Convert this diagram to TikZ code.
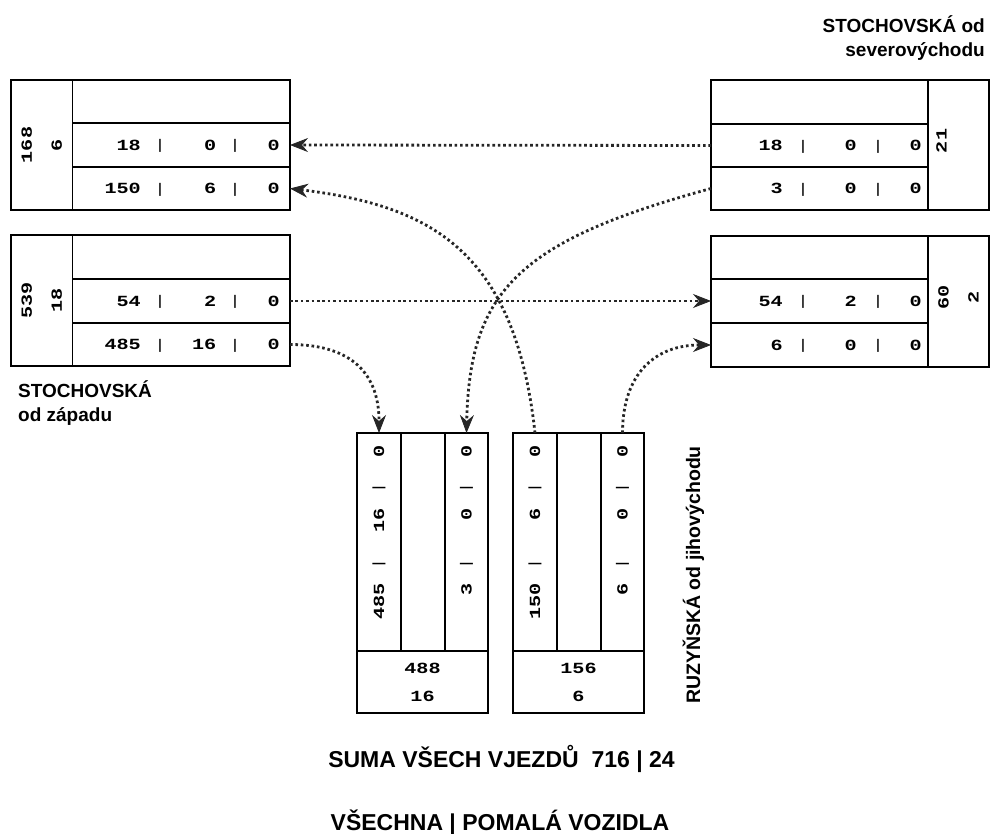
\documentclass[tikz,border=0pt]{standalone}
\usepackage{fontspec}
\setmainfont{Liberation Sans}
\newfontfamily\monof[FakeStretch=1.3]{Liberation Mono}
\usetikzlibrary{arrows.meta,fit}

\newcommand\hrow[9]{%
  \node[num] (#1-a) at ([xshift=-#5pt]#1.east) {#2};
  \node[barst] (#1-p) at ([xshift=-#6pt,yshift=-1pt]#1.east) {|};
  \node[num] (#1-b) at ([xshift=-#7pt]#1.east) {#3};
  \node[barst] (#1-q) at ([xshift=-#8pt,yshift=-1pt]#1.east) {|};
  \node[num] (#1-c) at ([xshift=-#9pt]#1.east) {#4};}
\newcommand\vrow[4]{%
  \node[num,rotate=90] (#1-a) at ([yshift=-150pt]#1.north) {#2};
  \node[barst,rotate=90] (#1-p) at ([yshift=-131pt]#1.north) {|};
  \node[num,rotate=90] (#1-b) at ([yshift=-75pt]#1.north) {#3};
  \node[barst,rotate=90] (#1-q) at ([yshift=-55pt]#1.north) {|};
  \node[num,rotate=90] (#1-c) at ([yshift=-12pt]#1.north) {#4};}

\begin{document}
\begin{tikzpicture}[x=1pt,y=-1pt,
  cellbox/.style={draw, line width=1.3pt, inner sep=0pt, outer sep=0pt},
  num/.style={font=\monof\bfseries\fontsize{15.5}{18}\selectfont, inner sep=0pt, anchor=east},
  barst/.style={font=\monof\fontsize{14}{16}\selectfont, inner sep=0pt, anchor=center},
  sidetxt/.style={font=\monof\bfseries\fontsize{15.5}{30}\selectfont, inner sep=0pt, align=center, rotate=90},
  sumtxt/.style={font=\monof\bfseries\fontsize{15.5}{28}\selectfont, inner sep=0pt, align=center},
  lbl/.style={font=\bfseries\fontsize{19}{23}\selectfont, inner sep=0pt},
  biglbl/.style={font=\bfseries\fontsize{23}{28}\selectfont, inner sep=0pt, anchor=base},
  flow/.style={line width=2.8pt, dash pattern=on 2.6pt off 2.8pt, color=black!85,
    -{Stealth[length=18pt,width=14pt,inset=6pt,line width=0.8pt]}}
]
\fill[white] (0,0) rectangle (991,834);
\useasboundingbox (0,0) rectangle (991,834);

% top-left box
\node[cellbox, fit={(11,80) (72.7,210)}] (TLs) {};
\node[cellbox, fit={(72.7,80) (290,123)}] (TL0) {};
\node[cellbox, fit={(72.7,123) (290,167)}] (TL1) {};
\node[cellbox, fit={(72.7,167) (290,210)}] (TL2) {};
% bottom-left box
\node[cellbox, fit={(11,235) (72.7,366)}] (BLs) {};
\node[cellbox, fit={(72.7,235) (290,279)}] (BL0) {};
\node[cellbox, fit={(72.7,279) (290,323)}] (BL1) {};
\node[cellbox, fit={(72.7,323) (290,366)}] (BL2) {};
% top-right box
\node[cellbox, fit={(928,80) (989,210)}] (TRs) {};
\node[cellbox, fit={(711,80) (928,124)}] (TR0) {};
\node[cellbox, fit={(711,124) (928,167)}] (TR1) {};
\node[cellbox, fit={(711,167) (928,210)}] (TR2) {};
% bottom-right box
\node[cellbox, fit={(928,236) (989,367)}] (BRs) {};
\node[cellbox, fit={(711,236) (928,279)}] (BR0) {};
\node[cellbox, fit={(711,279) (928,323)}] (BR1) {};
\node[cellbox, fit={(711,323) (928,367)}] (BR2) {};
% bottom boxes
\node[cellbox, fit={(357,433) (401,651)}] (A1) {};
\node[cellbox, fit={(401,433) (445,651)}] (A2) {};
\node[cellbox, fit={(445,433) (488,651)}] (A3) {};
\node[cellbox, fit={(357,651) (488,713)}] (As) {};
\node[cellbox, fit={(513,433) (557,651)}] (B1) {};
\node[cellbox, fit={(557,433) (601,651)}] (B2) {};
\node[cellbox, fit={(601,433) (644,651)}] (B3) {};
\node[cellbox, fit={(513,651) (644,713)}] (Bs) {};

% texts
\node[sidetxt] (TLs-t) at (TLs.center) {168\\6};
\node[sidetxt] (BLs-t) at (BLs.center) {539\\18};
\node[sidetxt] (TRs-t) at ([yshift=4pt,xshift=-2pt]TRs.center) {21\\\phantom{0}};
\node[sidetxt] (BRs-t) at ([yshift=4pt]BRs.center) {60\\2};

\hrow{TL1}{18}{0}{0}{149}{130}{73.5}{55}{10}
\hrow{TL2}{150}{6}{0}{149}{130}{73.5}{55}{10}
\hrow{BL1}{54}{2}{0}{149}{130}{73.5}{55}{10}
\hrow{BL2}{485}{16}{0}{149}{130}{73.5}{55}{10}
\hrow{TR1}{18}{0}{0}{145}{125}{71}{50}{6}
\hrow{TR2}{3}{0}{0}{145}{125}{71}{50}{6}
\hrow{BR1}{54}{2}{0}{145}{125}{71}{50}{6}
\hrow{BR2}{6}{0}{0}{145}{125}{71}{50}{6}

\vrow{A1}{485}{16}{0}
\vrow{A3}{3}{0}{0}
\vrow{B1}{150}{6}{0}
\vrow{B3}{6}{0}{0}

\node[sumtxt] (As-t) at (As.center) {488\\16};
\node[sumtxt] (Bs-t) at (Bs.center) {156\\6};

% labels
\node[lbl, anchor=base west] (lw1) at (18,398) {STOCHOVSKÁ};
\node[lbl, anchor=base west] (lw2) at (18,421) {od západu};
\node[lbl, anchor=base east] (lne1) at (985,33) {STOCHOVSKÁ od};
\node[lbl, anchor=base east] (lne2) at (985,57) {severovýchodu};
\node[lbl, font=\bfseries\fontsize{19.5}{23}\selectfont, anchor=base, rotate=90] (lse) at (700,575) {RUZYŇSKÁ od jihovýchodu};
\node[biglbl] (sum1) at (501.5,767) {SUMA VŠECH VJEZDŮ\ \ 716 | 24};
\node[biglbl] (sum2) at (500,830) {VŠECHNA | POMALÁ VOZIDLA};

% connectors
\draw[flow] (TR1.west) -- (TL1.east);
\draw[flow] (BL1.east) -- (BR1.west);
\draw[flow] (TR2.west) .. controls +(-191,52) and +(3,-143) .. (A3.north);
\draw[flow] (B1.north) .. controls +(-20,-183) and +(140,17) .. (TL2.east);
\draw[flow] (BL2.east) .. controls +(55,0) and +(0,-65) .. (A1.north);
\draw[flow] (B3.north) .. controls +(0,-60) and +(-55,0) .. (BR2.west);
\end{tikzpicture}
\end{document}
